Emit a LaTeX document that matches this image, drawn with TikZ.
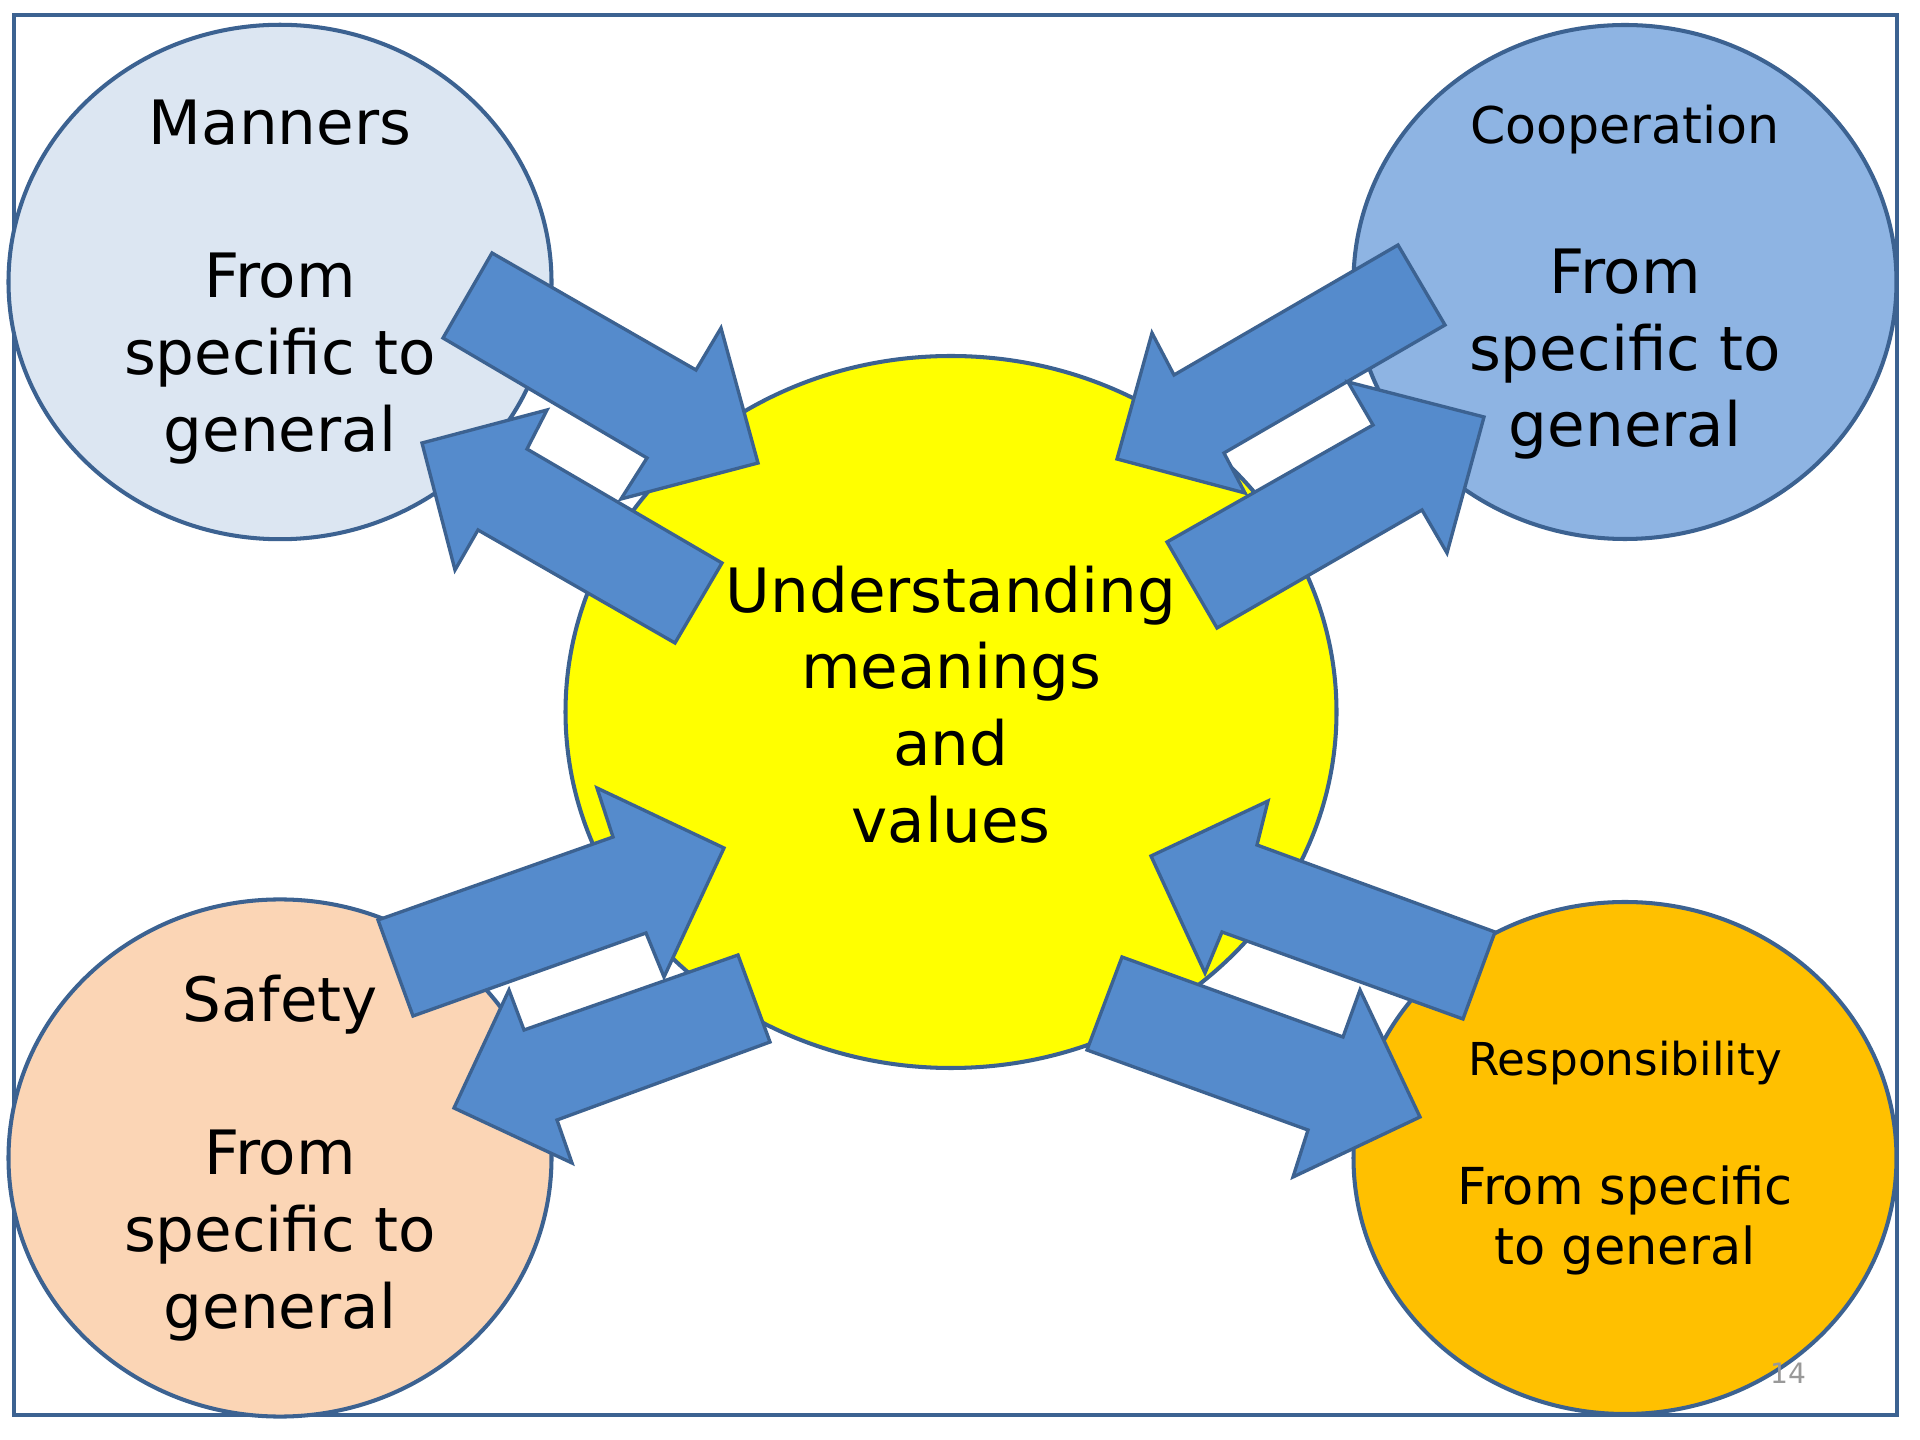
\documentclass[tikz,border=0pt]{standalone}
\usepackage{fontspec}
\setmainfont{DejaVu Sans}
\usetikzlibrary{shapes.geometric}
\definecolor{edgeblue}{RGB}{60,98,145}
\definecolor{arrowblue}{RGB}{85,139,204}
\definecolor{mannersfill}{RGB}{220,230,242}
\definecolor{coopfill}{RGB}{142,180,227}
\definecolor{safetyfill}{RGB}{251,213,181}
\definecolor{respfill}{RGB}{255,192,0}
\definecolor{corefill}{RGB}{255,255,0}
\begin{document}
\begin{tikzpicture}[x=0.1mm,y=-0.1mm,
	bubble/.style={ellipse,draw=edgeblue,line width=1.15pt,inner sep=0pt,align=center,
		minimum width=54.3mm,minimum height=51.4mm,font=\fontsize{17.4}{21.8}\selectfont},
	bigarrow/.style={fill=arrowblue,draw=edgeblue,line width=0.95pt}]
			\useasboundingbox (0,0) rectangle (1920,1440);
			\draw[edgeblue,line width=0.95pt] (14,15) rectangle (1897,1415);
			\node[bubble,fill=mannersfill] (manners) at (280,282)
				{Manners\\[21.8pt]From\\specific to\\general};
			\node[bubble,fill=coopfill] (coop) at (1625,282)
				{{\fontsize{14.4}{17}\selectfont Cooperation}\\[21pt]From\\specific to\\general};
			\node[bubble,fill=safetyfill,minimum height=51.2mm] (safety) at (280,1158)
				{Safety\\[21.8pt]From\\specific to\\general};
			\node[bubble,fill=respfill,minimum height=51.2mm,font=\fontsize{14.5}{17.3}\selectfont] (resp) at (1625,1158)
				{{\fontsize{12.9}{15}\selectfont Responsibility}\\[19.4pt]From specific\\to general};
			\node[bubble,fill=corefill,minimum width=77.1mm,minimum height=71.2mm] (core) at (951,712)
				{Understanding\\meanings\\and\\values\rule[-1.6mm]{0pt}{1.6mm}};
			\draw[bigarrow] (492,253)--(696,370)--(721,328)--(758,463)--(621,499)--(647,458)--(443,338)--cycle;
			\draw[bigarrow] (722,563)--(527,449)--(547,410)--(422,443)--(455,570)--(478,530)--(675,643)--cycle;
			\draw[bigarrow] (1398,245)--(1174,375)--(1152,333)--(1117,459)--(1245,493)--(1224,453)--(1445,325)--cycle;
			\draw[bigarrow] (1167,542)--(1373,425)--(1348,382)--(1484,417)--(1447,553)--(1422,510)--(1217,628)--cycle;
			\draw[bigarrow] (378,920)--(613,837)--(597,788)--(724,848)--(664,977)--(646,933)--(413,1016)--cycle;
			\draw[bigarrow] (738,955)--(524,1030)--(509,990)--(454,1108)--(572,1163)--(557,1120)--(770,1042)--cycle;
			\draw[bigarrow] (1495,932)--(1257,845)--(1268,801)--(1151,856)--(1205,973)--(1222,932)--(1463,1019)--cycle;
			\draw[bigarrow] (1122,957)--(1343,1037)--(1360,990)--(1420,1117)--(1293,1177)--(1308,1130)--(1087,1050)--cycle;
			\node[text=gray!80,font=\fontsize{8}{9}\selectfont,anchor=base] (pagenum) at (1788,1383) {14};
\end{tikzpicture}
\end{document}
